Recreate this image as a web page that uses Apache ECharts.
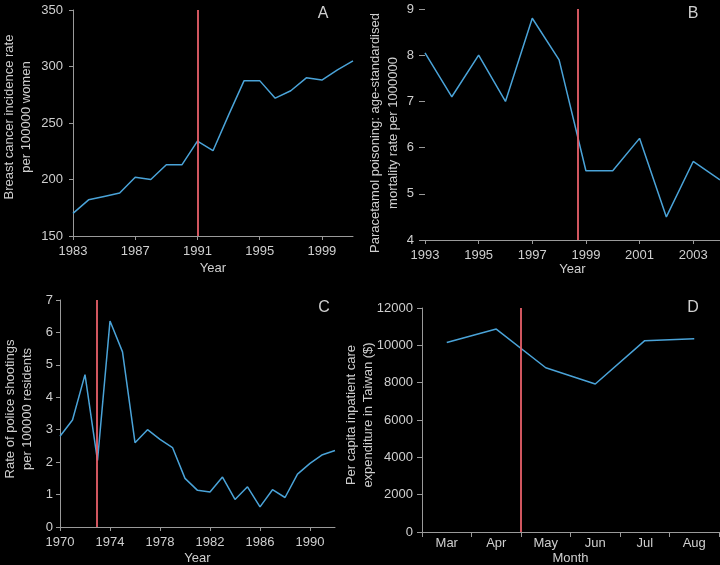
<!DOCTYPE html>
<html><head><meta charset="utf-8">
<script src="https://cdn.jsdelivr.net/npm/echarts@6/dist/echarts.min.js"></script>
<style>html,body{margin:0;padding:0;background:#000;} #c{width:720px;height:565px;}</style>
</head><body><div id="c"></div>
<script>
// ---- Panel A ----
const yearsA = [1983,1984,1985,1986,1987,1988,1989,1990,1991,1992,1993,1994,1995,1996,1997,1998,1999,2000,2001];
const incidenceA = [170,182,185,188,202,200,213,213,234,225.5,257,287.5,287.5,272,278.5,290,288,297,305];
const ticksA = [1983,1987,1991,1995,1999];
const interventionA = 1991;

// ---- Panel B ----
const yearsB = [1993,1994,1995,1996,1997,1998,1999,2000,2001,2002,2003,2004];
const mortalityB = [8.05,7.1,8.0,7.0,8.8,7.9,5.5,5.5,6.2,4.5,5.7,5.3];
const ticksB = [1993,1995,1997,1999,2001,2003];
const interventionB = 1998.7;

// ---- Panel C ----
const yearsC = [1970,1971,1972,1973,1974,1975,1976,1977,1978,1979,1980,1981,1982,1983,1984,1985,1986,1987,1988,1989,1990,1991,1992];
const shootingsC = [2.8,3.3,4.7,2.05,6.35,5.4,2.6,3.0,2.7,2.45,1.5,1.13,1.08,1.54,0.85,1.24,0.62,1.15,0.91,1.63,1.96,2.23,2.36];
const ticksC = [1970,1974,1978,1982,1986,1990];
const interventionC = 1972.93;

// ---- Panel D ----
const monthsD = ['Mar','Apr','May','Jun','Jul','Aug'];
const expenditureD = [10150,10870,8800,7930,10250,10350];
const interventionD = 1.5; // boundary between Apr and May (category index units)

const panelLabels = ['A','B','C','D'];

const FONT = 'Liberation Sans, Arial, sans-serif';
const TXT = '#cfcfcf';
const AX = '#9a9a9a';
const BLUE = '#4aa3d8';
const RED = '#e8606a';

function pairs(xs, ys){ return xs.map((x,i)=>[x, ys[i]]); }
const plain = v => String(v);

function yAx(gi, min, max, interval, name, opts){
  opts = opts || {};
  return {
    type:'value', gridIndex:gi, min:min, max:max, interval:interval,
    name:name, nameLocation:'middle', nameGap:opts.nameGap, nameRotate:90, nameMoveOverlap:false,
    nameTextStyle:{color:TXT, fontSize:13, fontFamily:FONT, lineHeight:opts.lh||17, padding:opts.pad||0},
    axisLine:{show:opts.noLine?false:true, onZero:false, lineStyle:{color:AX, width:1}},
    axisTick:{show:true, length:opts.tick||4, lineStyle:{color:AX}},
    axisLabel:{color:TXT, fontSize:13, fontFamily:FONT, margin:opts.margin||8, formatter:plain},
    splitLine:{show:false}
  };
}
function xAx(gi, min, max, ticks, name, opts){
  return {
    type:'value', gridIndex:gi, min:min, max:max,
    name:name, nameLocation:'middle', nameGap:opts.nameGap, nameMoveOverlap:false,
    nameTextStyle:{color:TXT, fontSize:13, fontFamily:FONT},
    axisLine:{show:true, onZero:false, lineStyle:{color:AX, width:1}},
    axisTick:{show:true, length:4, customValues:ticks, lineStyle:{color:AX}},
    axisLabel:{color:TXT, fontSize:13, fontFamily:FONT, margin:opts.margin, customValues:ticks, formatter:plain},
    splitLine:{show:false}
  };
}
function lineSeries(xi, yi, data){
  return {type:'line', xAxisIndex:xi, yAxisIndex:yi, data:data, symbol:'none',
    lineStyle:{color:BLUE, width:1.5}, itemStyle:{color:BLUE}, silent:true, animation:false};
}
function mark(x){
  return {silent:true, symbol:['none','none'], label:{show:false},
    lineStyle:{color:RED, width:1.8, type:'solid'}, data:[{xAxis:x}], animation:false};
}

const option = {
  backgroundColor:'#000',
  animation:false,
  grid:[
    {left:73, top:10, width:280, height:226, outerBoundsMode:'none', containLabel:false},
    {left:425, top:9, width:295, height:231, outerBoundsMode:'none', containLabel:false},
    {left:60, top:300, width:275, height:227, outerBoundsMode:'none', containLabel:false},
    {left:422, top:308, width:297, height:224, outerBoundsMode:'none', containLabel:false}
  ],
  xAxis:[
    xAx(0, 1983, 2001, ticksA, 'Year', {nameGap:26, margin:9}),
    xAx(1, 1993, 2004, ticksB, 'Year', {nameGap:23, margin:9}),
    xAx(2, 1970, 1992, ticksC, 'Year', {nameGap:25, margin:9}),
    {type:'category', gridIndex:3, data:monthsD, boundaryGap:true,
      name:'Month', nameLocation:'middle', nameGap:20, nameMoveOverlap:false,
      nameTextStyle:{color:TXT, fontSize:13, fontFamily:FONT},
      axisLine:{show:true, onZero:false, lineStyle:{color:AX, width:1}},
      axisTick:{show:true, length:5, lineStyle:{color:AX}},
      axisLabel:{color:TXT, fontSize:13, fontFamily:FONT, margin:5},
      splitLine:{show:false}},
    {type:'value', gridIndex:3, min:-0.5, max:monthsD.length-0.5, show:false}
  ],
  yAxis:[
    yAx(0, 150, 350, 50, 'Breast cancer incidence rate\nper 100000 women', {nameGap:38, margin:10, pad:[0,0,0,12]}),
    yAx(1, 4, 9, 1, 'Paracetamol poisoning: age-standardised\nmortality rate per 1000000', {nameGap:23, margin:11, tick:6, noLine:true, lh:18, pad:[0,17,0,0]}),
    yAx(2, 0, 7, 1, 'Rate of police shootings\nper 100000 residents', {nameGap:24, margin:7, pad:[0,0,0,9]}),
    yAx(3, 0, 12000, 2000, 'Per capita inpatient care\nexpenditure in Taiwan ($)', {nameGap:45, margin:9, tick:5, lh:17, pad:[0,0,0,10]})
  ],
  series:[
    Object.assign(lineSeries(0,0,pairs(yearsA, incidenceA)), {markLine:mark(interventionA)}),
    Object.assign(lineSeries(1,1,pairs(yearsB, mortalityB)), {markLine:mark(interventionB)}),
    Object.assign(lineSeries(2,2,pairs(yearsC, shootingsC)), {markLine:mark(interventionC)}),
    lineSeries(3,3,expenditureD),
    {type:'line', xAxisIndex:4, yAxisIndex:3, symbol:'none', silent:true, animation:false,
      data:[], markLine:mark(interventionD)}
  ],
  graphic:[
    {type:'text', x:323, y:14, style:{text:panelLabels[0], fill:TXT, font:'16px '+FONT, align:'center', verticalAlign:'middle'}},
    {type:'text', x:693, y:14, style:{text:panelLabels[1], fill:TXT, font:'16px '+FONT, align:'center', verticalAlign:'middle'}},
    {type:'text', x:324, y:308, style:{text:panelLabels[2], fill:TXT, font:'16px '+FONT, align:'center', verticalAlign:'middle'}},
    {type:'text', x:693, y:308, style:{text:panelLabels[3], fill:TXT, font:'16px '+FONT, align:'center', verticalAlign:'middle'}}
  ]
};
const chart = echarts.init(document.getElementById('c'), null, {renderer:'canvas'});
chart.setOption(option);
</script></body></html>
